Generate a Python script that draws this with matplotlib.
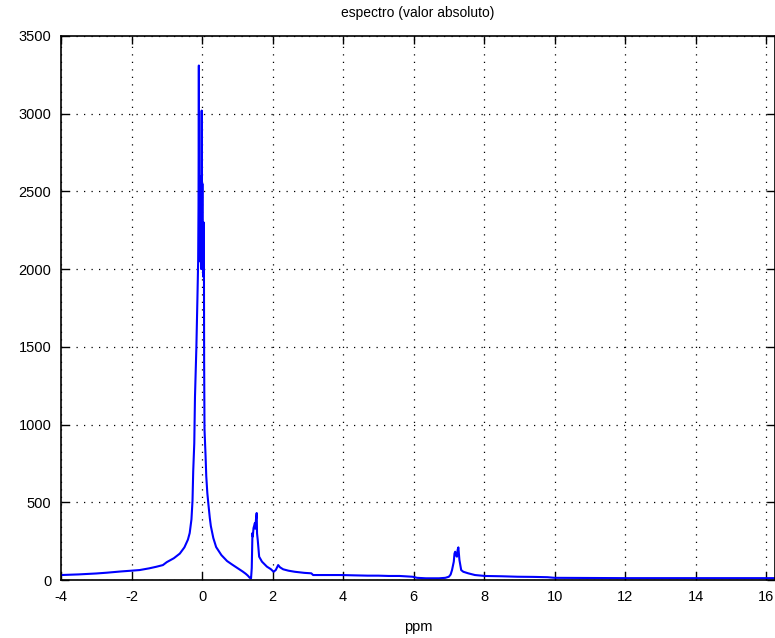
import numpy as np
from matplotlib import pyplot as plt

plt.rcParams['axes.unicode_minus'] = False
plt.rcParams['font.family'] = ['Liberation Sans', 'DejaVu Sans']

ppm = [-4.0, -3.5, -3.0, -2.7, -2.3, -2.0, -1.77, -1.5, -1.3, -1.11, -1.0,
       -0.8, -0.63, -0.5, -0.4, -0.35, -0.3, -0.27, -0.25, -0.22, -0.2,
       -0.16, -0.13, -0.11, -0.1, -0.09, -0.08, -0.07, -0.06, -0.05, -0.04,
       -0.03, -0.02, -0.01, 0.0, 0.01, 0.02, 0.03, 0.04, 0.05, 0.055,
       0.06, 0.07, 0.1, 0.12, 0.15, 0.18, 0.22, 0.25, 0.32, 0.4, 0.55,
       0.71, 0.85, 1.05, 1.15, 1.24, 1.3, 1.35, 1.39, 1.41, 1.43, 1.44,
       1.46, 1.48, 1.5, 1.51, 1.53, 1.55, 1.56, 1.58, 1.62, 1.7, 1.84,
       1.95, 2.03, 2.09, 2.16, 2.21, 2.3, 2.45, 2.63, 2.9, 3.1, 3.15,
       3.5, 3.94, 4.3, 4.7, 5.0, 5.3, 5.6, 5.97, 6.1, 6.35, 6.72, 6.9,
       7.0, 7.05, 7.09, 7.14, 7.16, 7.18, 7.2, 7.23, 7.25, 7.27, 7.3,
       7.35, 7.41, 7.55, 7.74, 8.02, 8.5, 8.95, 9.4, 9.8, 10.0, 11.0,
       12.0, 13.0, 14.0, 15.0, 16.25]
valor = [32, 36, 42, 47, 55, 60, 64, 75, 85, 96, 115,
         140, 170, 210, 260, 302, 390, 510, 700, 880, 1177,
         1500, 1820, 2050, 2400, 3310, 2200, 2600, 2050, 2550, 2100,
         2500, 2000, 3020, 2200, 2550, 2050, 2300, 1950, 2300, 1950,
         1400, 970, 800, 668, 560, 489, 400, 347, 270, 212, 160,
         122, 100, 70, 55, 40, 28, 15, 10, 77, 302, 280,
         334, 350, 367, 330, 390, 431, 300, 257, 150, 118, 86,
         70, 53, 64, 96, 82, 69, 60, 53, 46, 43, 32,
         32, 32, 30, 28, 28, 26, 26, 21, 14, 11, 11, 14,
         21, 35, 64, 118, 170, 182, 160, 150, 195, 210, 129,
         64, 53, 43, 32, 26, 24, 21, 20, 18, 14, 13,
         12, 12, 12, 12, 12]

fig = plt.figure(figsize=(7.75, 6.38), dpi=100)
ax = fig.add_axes([0.0787, 0.0909, 0.9213, 0.8527])

ax.plot(ppm, valor, color='#0000ff', linewidth=1.5)

ax.set_xlim(-4, 16.25)
ax.set_ylim(0, 3500)
ax.set_xticks(np.arange(-4, 17, 2))
ax.set_yticks(np.arange(0, 3501, 500))
ax.grid(True, color='black', linestyle=(0, (1, 5)), linewidth=0.9)
ax.tick_params(direction='in', top=True, right=True, labelsize=10.5,
               length=6, width=1, pad=7)
for s in ax.spines.values():
    s.set_linewidth(1.2)

ax.set_title("espectro (valor absoluto)", fontsize=10, pad=14)
ax.set_xlabel("ppm", fontsize=10.5, labelpad=12)

plt.savefig("out.png", dpi=100)
